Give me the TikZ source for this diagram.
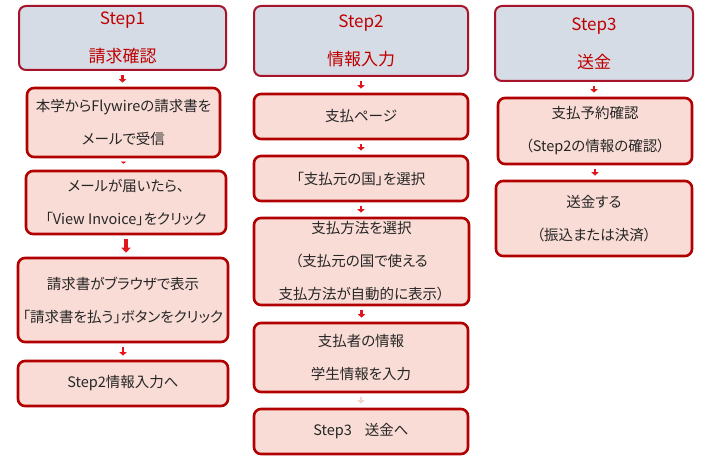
\documentclass[tikz,border=0pt]{standalone}
\usepackage{fontspec}
\setmainfont{Noto Sans CJK JP}[RawFeature={+palt}]
\usetikzlibrary{arrows.meta}
\definecolor{hdrfill}{HTML}{D6DCE5}
\definecolor{hdrline}{HTML}{A5142A}
\definecolor{boxfill}{HTML}{F9DCD5}
\definecolor{boxline}{HTML}{B20000}
\definecolor{hdrtext}{HTML}{C00000}
\definecolor{arrowred}{HTML}{E2141C}
\definecolor{arrowpale}{HTML}{F2D6CC}
\begin{document}
\begin{tikzpicture}[x=1pt,y=-1pt,
    header/.style={draw=hdrline,fill=hdrfill,line width=2pt,rounded corners=7pt,
        align=center,text=hdrtext,font=\fontsize{17}{38}\selectfont},
    stepbox/.style={draw=boxline,fill=boxfill,line width=2.6pt,rounded corners=7pt,
        align=center,text=black!85,font=\fontsize{14.5}{33}\selectfont},
    flow/.style={draw=arrowred,line width=2.6pt,-{Triangle[length=3.5pt,width=7pt]},
        shorten <=4pt,shorten >=4pt}]
        \useasboundingbox[fill=white] (0,0) rectangle (712,462);

        % Step1
        \node[header,minimum width=207pt,minimum height=64pt] (h1) at (122.5,38) {Step1\\請求確認};
        \node[stepbox,minimum width=193pt,minimum height=69pt] (b11) at (123.5,122.5) {本学からFlywireの請求書を\\メールで受信};
        \node[stepbox,minimum width=200pt,minimum height=63pt] (b12) at (126,202.5) {メールが届いたら、\\「View Invoice」をクリック};
        \node[stepbox,minimum width=210pt,minimum height=84pt] (b13) at (123,300) {請求書がブラウザで表示\\「請求書を払う」ボタンをクリック};
        \node[stepbox,minimum width=210pt,minimum height=45pt] (b14) at (123,383.5) {Step2情報入力へ};

        % Step2
        \node[header,minimum width=214pt,minimum height=70pt] (h2) at (361,41) {Step2\\情報入力};
        \node[stepbox,minimum width=214pt,minimum height=45pt] (b21) at (361,116.5) {支払ページ};
        \node[stepbox,minimum width=214pt,minimum height=45pt] (b22) at (361,178.5) {「支払元の国」を選択};
        \node[stepbox,minimum width=215pt,minimum height=87pt] (b23) at (361.5,261.5) {支払方法を選択\\（支払元の国で使える\\支払方法が自動的に表示）};
        \node[stepbox,minimum width=214pt,minimum height=69pt] (b24) at (361,357.5) {支払者の情報\\学生情報を入力};
        \node[stepbox,minimum width=214pt,minimum height=45pt] (b25) at (361,431.5) {Step3\hspace{0.9em}送金へ};

        % Step3
        \node[header,minimum width=198pt,minimum height=75pt] (h3) at (594,43.5) {Step3\\送金};
        \node[stepbox,minimum width=194pt,minimum height=66pt] (b31) at (595,131) {支払予約確認\\（Step2の情報の確認）};
        \node[stepbox,minimum width=196pt,minimum height=75pt] (b32) at (594,218.5) {送金する\\（振込または決済）};

        % Pfeile
        \draw[flow] (h1.south) -- (h1.south |- b11.north);
        \draw[flow,line width=2pt,-{Triangle[length=2pt,width=5pt]},shorten <=4pt,shorten >=6pt] (b11.south) -- (b11.south |- b12.north);
        \draw[flow,line width=4pt,-{Triangle[length=5pt,width=9pt]}] (b12.south) -- (b12.south |- b13.north);
        \draw[flow] (b13.south) -- (b13.south |- b14.north);
        \draw[flow] (h2.south) -- (h2.south |- b21.north);
        \draw[flow] (b21.south) -- (b21.south |- b22.north);
        \draw[flow] (b22.south) -- (b22.south |- b23.north);
        \draw[flow] (b23.south) -- (b23.south |- b24.north);
        \draw[flow,draw=arrowpale] (b24.south) -- (b24.south |- b25.north);
        \draw[flow] (h3.south) -- (h3.south |- b31.north);
        \draw[flow] (b31.south) -- (b31.south |- b32.north);
\end{tikzpicture}
\end{document}
